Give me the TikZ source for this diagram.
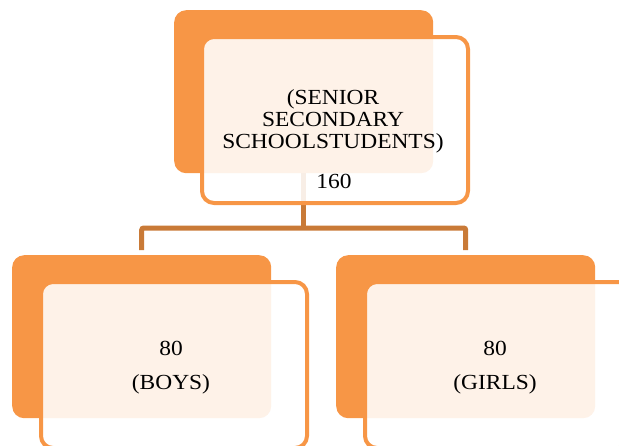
\documentclass[tikz,border=0pt]{standalone}
\usepackage{fontspec}
\newfontfamily\tnr[FakeStretch=1.09]{Liberation Serif}
\usetikzlibrary{calc}
\definecolor{accent}{RGB}{247,150,70}
\definecolor{linkc}{RGB}{201,122,55}
\tikzset{
  backbox/.style={rectangle, rounded corners=12pt, fill=accent, draw=none,
    inner sep=0pt, minimum width=259pt, minimum height=163pt, anchor=north west},
  frontbox/.style={rectangle, rounded corners=12pt, draw=accent, line width=4pt,
    fill=white, fill opacity=0.88, inner sep=0pt, minimum width=266pt,
    minimum height=166pt, anchor=north west},
  lbl/.style={anchor=base, inner sep=0pt, text=black,
    font=\tnr\fontsize{21.5pt}{22pt}\selectfont},
  conn/.style={draw=linkc, line width=5pt, rounded corners=2pt}
}
\begin{document}
\begin{tikzpicture}[x=1pt,y=-1pt]
\useasboundingbox (0,0) rectangle (619,445);
\clip (0,0) rectangle (619,445);
% back boxes
\node[backbox] (backTop) at (174,10) {};
\node[backbox] (backL) at (12,255) {};
\node[backbox] (backR) at (336,255) {};
% connectors
\coordinate (bus) at (0,228);
\coordinate (endL) at ($(backL.north)+(0,-5)$);
\coordinate (endR) at ($(backR.north)+(0,-5)$);
\draw[conn] (backTop.south) -- (backTop.south |- bus);
\draw[conn] (endL) |- (backTop.south |- bus) -| (endR);
% front boxes
\node[frontbox] (frontTop) at (200,35) {};
\node[frontbox] (frontL) at (39,280) {};
\node[frontbox] (frontR) at (363,280) {};
% texts
\node[lbl] (t1) at (333,104) {(SENIOR};
\node[lbl] (t2) at (333,126) {SECONDARY};
\node[lbl] (t3) at (333,148) {SCHOOLSTUDENTS)};
\node[lbl] (t4) at (334,188) {160};
\node[lbl] (b1) at (171,355) {80};
\node[lbl] (b2) at (171,389) {(BOYS)};
\node[lbl] (g1) at (495,355) {80};
\node[lbl] (g2) at (495,389) {(GIRLS)};
\end{tikzpicture}
\end{document}
